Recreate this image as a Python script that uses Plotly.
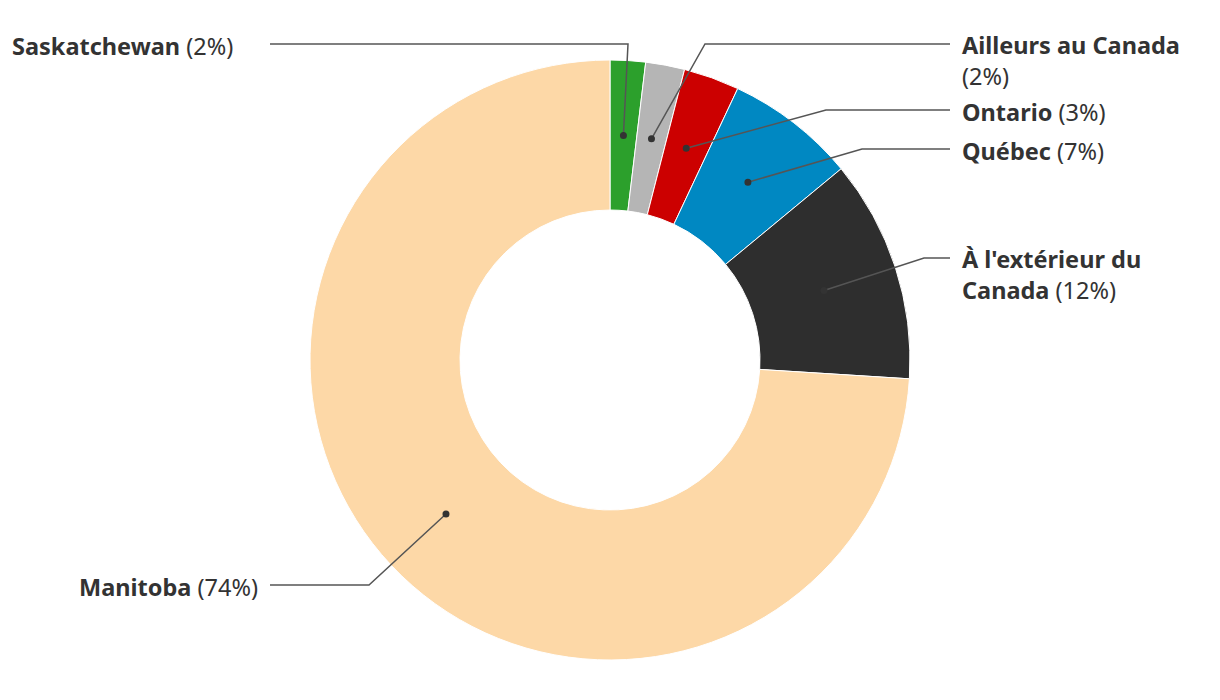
import math
import plotly.graph_objects as go

# Data
regions = ["Saskatchewan", "Ailleurs au Canada", "Ontario", "Québec",
           "À l'extérieur du Canada", "Manitoba"]
shares = [1.9, 2.1, 3.0, 7.0, 12.0, 74.0]
pct_labels = ["2%", "2%", "3%", "7%", "12%", "74%"]
colors = ["#2ca02c", "#b5b5b5", "#cc0000", "#0088c2", "#2e2e2e", "#fdd8a7"]

W, H = 1220, 700
OFF = 8  # page body margin
CX, CY, R = 610, 360, 300
HOLE = 0.5


def px(x):
    return (x - OFF) / W


def py(y):
    return 1 - (y - OFF) / H


fig = go.Figure(go.Pie(
    labels=regions, values=shares, sort=False, direction="clockwise",
    rotation=0, hole=HOLE, textinfo="none",
    marker=dict(colors=colors, line=dict(color="white", width=1)),
    domain=dict(x=[px(CX - R), px(CX + R)], y=[py(CY + R), py(CY - R)]),
    showlegend=False,
))

# label layout: (elbow x, elbow y, end x, text x, anchor, text centre y, text)
label_layout = [
    (628, 44, 270, 235, "right", 46, "<b>Saskatchewan</b> (2%)"),
    (705, 44, 950, 960, "left", 60, "<b>Ailleurs au Canada</b><br>(2%)"),
    (826, 110, 950, 960, "left", 112, "<b>Ontario</b> (3%)"),
    (862, 149, 950, 960, "left", 151, "<b>Québec</b> (7%)"),
    (924, 258, 950, 960, "left", 274, "<b>À l'extérieur du</b><br><b>Canada</b> (12%)"),
    (369, 585, 270, 260, "right", 587, "<b>Manitoba</b> (74%)"),
]

shapes = []
annotations = []
total = sum(shares)
cum = 0.0
r_dot = R * (1 + HOLE) / 2
for i, v in enumerate(shares):
    mid = (cum + v / 2) / total * 2 * math.pi
    cum += v
    dx = CX + r_dot * math.sin(mid)
    dy = CY - r_dot * math.cos(mid)
    ex, ey, endx, tx, anc, ty, txt = label_layout[i]
    lc = "#555555"
    shapes.append(dict(type="path", xref="paper", yref="paper",
                       path=f"M {px(dx)} {py(dy)} L {px(ex)} {py(ey)} L {px(endx)} {py(ey)}",
                       line=dict(color=lc, width=1.5)))
    rr = 3.5
    shapes.append(dict(type="circle", xref="paper", yref="paper",
                       x0=px(dx - rr), x1=px(dx + rr), y0=py(dy + rr), y1=py(dy - rr),
                       fillcolor="#333333", line=dict(width=0)))
    annotations.append(dict(xref="paper", yref="paper", x=px(tx), y=py(ty),
                            xanchor=anc, yanchor="middle",
                            align=anc, text=txt, showarrow=False,
                            font=dict(family="Noto Sans", size=23.5, color="#333333")))

fig.update_layout(width=W, height=H, margin=dict(l=0, r=0, t=0, b=0),
                  paper_bgcolor="white", plot_bgcolor="white",
                  shapes=shapes, annotations=annotations)
fig.write_html("out.html")
